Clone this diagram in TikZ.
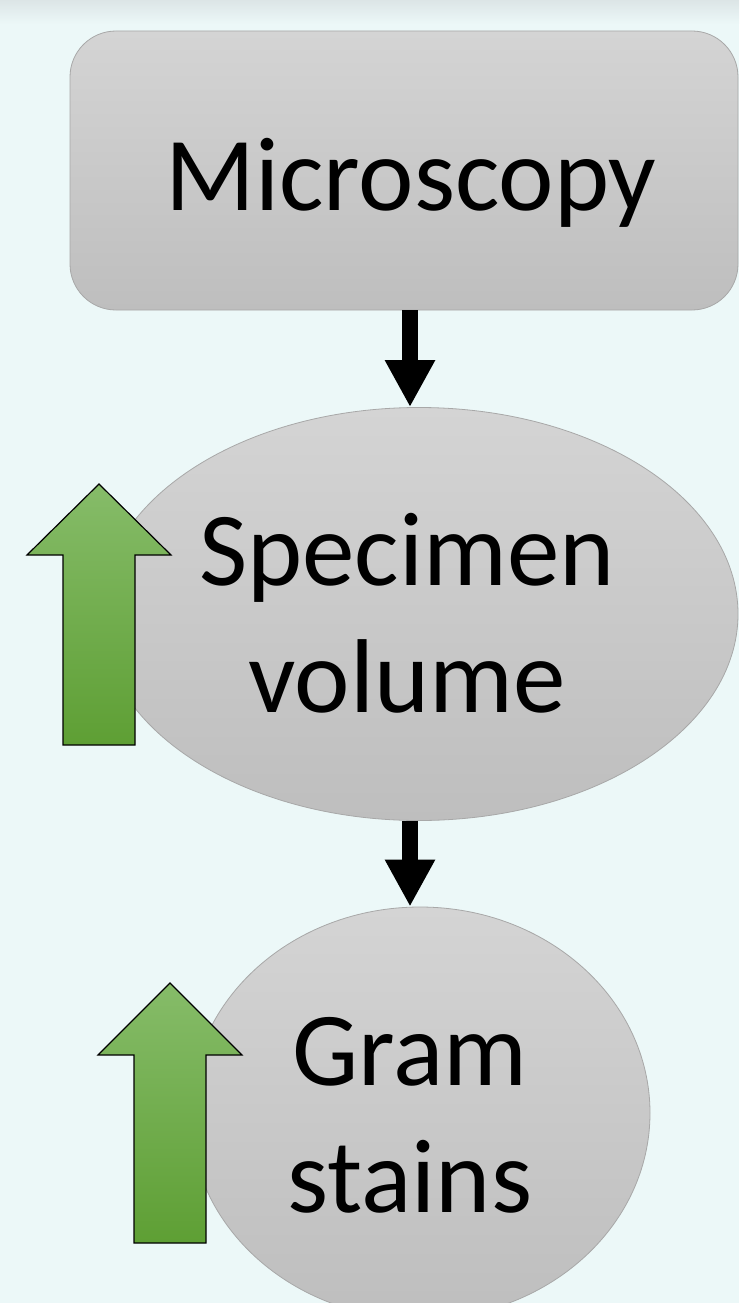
\documentclass[tikz,border=0pt]{standalone}
\usepackage{fontspec}
\setmainfont{Carlito}
\usetikzlibrary{arrows.meta,calc,shapes.geometric}
\definecolor{bg}{HTML}{ECF8F8}
\definecolor{bandtop}{HTML}{DCE5E6}
\definecolor{graytop}{HTML}{D4D4D4}
\definecolor{graybot}{HTML}{BEBEBE}
\definecolor{grayedge}{HTML}{A8A8A8}
\definecolor{greentop}{HTML}{86BC69}
\definecolor{greenbot}{HTML}{5E9F34}
\tikzset{
  graybox/.style={draw=grayedge, line width=0.8pt, top color=graytop, bottom color=graybot, inner sep=0pt},
  flowarrow/.style={line width=16pt, -{Triangle[width=47pt,length=47pt]}},
  greenarrow/.style={draw=black, line width=1.2pt, top color=greentop, bottom color=greenbot, line join=miter},
  label/.style={font=\fontsize{105}{127}\selectfont, align=center, text=black, inner sep=0pt}
}
\begin{document}
\begin{tikzpicture}[x=1pt,y=-1pt]
\path[use as bounding box, fill=bg] (0,0) rectangle (739,1303);
\clip (0,0) rectangle (739,1303);
\shade[top color=bandtop, bottom color=bg] (0,0) rectangle (739,24);
% shapes
\node[graybox, rounded corners=46pt, minimum width=668pt, minimum height=279pt] (r) at (404,170.5) {};
\node[graybox, ellipse, minimum width=638pt, minimum height=413pt] (e1) at (419,614) {};
\node[graybox, ellipse, minimum width=460pt, minimum height=412pt] (e2) at (420,1113) {};
% texts
\node[label, anchor=base] (t1) at (411,210) {Microscopy};
\node[label, anchor=base] (t2) at (407,712) {Specimen\\volume};
\node[label, anchor=base] (t3) at (410,1212) {Gram\\stains};
% connectors
\draw[flowarrow] ([xshift=6pt]r.south) -- ([xshift=6pt]r.south |- e1.north);
\draw[flowarrow] ([xshift=-9pt]e1.south) -- ([xshift=-9pt]e1.south |- e2.north);
% green up arrows
\path[greenarrow] (63,745) -- (63,555) -- (27,555) -- (99,484) -- (171,555) -- (135,555) -- (135,745) -- cycle;
\path[greenarrow] (134,1243) -- (134,1055) -- (98,1055) -- (170,983) -- (242,1055) -- (206,1055) -- (206,1243) -- cycle;
\end{tikzpicture}
\end{document}
